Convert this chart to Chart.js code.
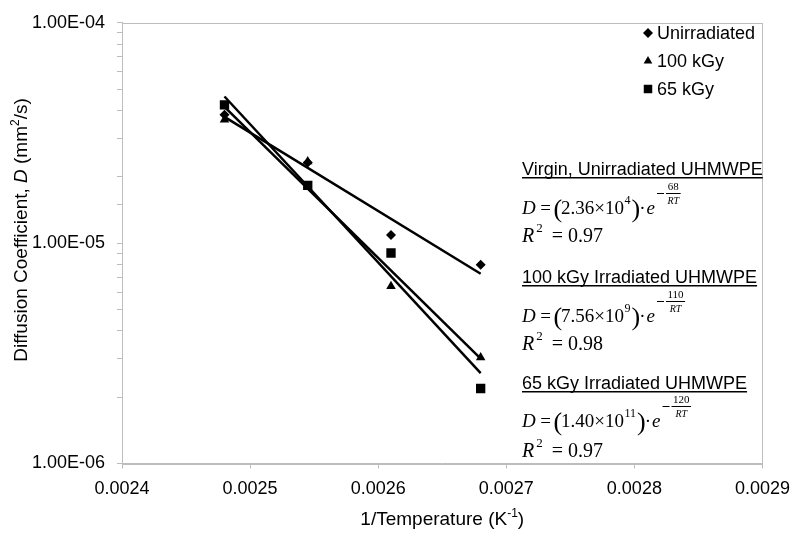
<!DOCTYPE html>
<html><head><meta charset="utf-8">
<script src="https://cdn.jsdelivr.net/npm/chart.js@4/dist/chart.umd.min.js"></script>
<style>html,body{margin:0;padding:0;background:#fff}#wrap{width:800px;height:534px}</style>
</head><body><div id="wrap"><canvas id="c" width="800" height="534"></canvas></div>
<script>
// ---- data ----
const invTemp = [0.00248, 0.002545, 0.00261, 0.00268];
const unirradiated = [3.83e-5, 2.32e-5, 1.09e-5, 7.97e-6];
const kGy100 = [3.63e-5, 2.35e-5, 6.37e-6, 3.03e-6];
const kGy65 = [4.24e-5, 1.83e-5, 9.02e-6, 2.19e-6];
const trendX = [0.00248, 0.00268];
const trendUnirradiated = [3.74e-5, 7.26e-6];
const trend100 = [4.15e-5, 2.99e-6];
const trend65 = [4.63e-5, 2.57e-6];
const xTicks = [0.0024, 0.0025, 0.0026, 0.0027, 0.0028, 0.0029];
const seriesNames = ['Unirradiated', '100 kGy', '65 kGy'];
const seriesStyles = ['rectRot', 'triangle', 'rect'];
const fitTitles = ['Virgin, Unirradiated UHMWPE', '100 kGy Irradiated UHMWPE', '65 kGy Irradiated UHMWPE'];
const fitCoef = ['2.36', '7.56', '1.40'];
const fitPow = ['4', '9', '11'];
const fitEnergy = ['68', '110', '120'];
const fitR2 = ['0.97', '0.98', '0.97'];

const SANS = '"Liberation Sans", Arial, Helvetica, sans-serif';
const SERIF = '"Liberation Serif", "Times New Roman", serif';
const FRAME = '#bdbdbd';

function pts(xs, ys) { return xs.map((x, i) => ({ x: x, y: ys[i] })); }

function drawMarker(ctx, style, x, y, r) {
  ctx.beginPath();
  if (style === 'rectRot') {
    ctx.moveTo(x - r, y); ctx.lineTo(x, y - r); ctx.lineTo(x + r, y); ctx.lineTo(x, y + r);
  } else if (style === 'triangle') {
    const w = r * Math.sqrt(3) / 2;
    ctx.moveTo(x, y - r); ctx.lineTo(x + w, y + r / 2); ctx.lineTo(x - w, y + r / 2);
  } else {
    const s = r * Math.SQRT1_2; ctx.rect(x - s, y - s, 2 * s, 2 * s);
  }
  ctx.closePath(); ctx.fill();
}

function drawEq(ctx, x, y, coef, pow, num) {
  ctx.fillStyle = '#000'; ctx.textAlign = 'left'; ctx.textBaseline = 'alphabetic';
  let cx = x;
  ctx.font = 'italic 19px ' + SERIF; ctx.fillText('D', cx, y); cx += ctx.measureText('D').width + 4.5;
  ctx.font = '19px ' + SERIF; ctx.fillText('=', cx, y); cx += ctx.measureText('=').width + 2.5;
  ctx.font = '26px ' + SERIF; ctx.fillText('(', cx, y + 3); cx += ctx.measureText('(').width - 1;
  ctx.font = '19px ' + SERIF; const t = coef + '\u00D710'; ctx.fillText(t, cx, y); cx += ctx.measureText(t).width;
  ctx.font = '12px ' + SERIF; ctx.fillText(pow, cx + 0.5, y - 10); cx += ctx.measureText(pow).width + 1.5;
  ctx.font = '26px ' + SERIF; ctx.fillText(')', cx, y + 3); cx += ctx.measureText(')').width - 1;
  ctx.font = '19px ' + SERIF; ctx.fillText('\u00B7', cx, y); cx += ctx.measureText('\u00B7').width + 1;
  ctx.font = 'italic 19px ' + SERIF; ctx.fillText('e', cx, y); cx += ctx.measureText('e').width + 2;
  // minus sign of exponent
  ctx.fillRect(cx, y - 21, 7, 1);
  cx += 9;
  ctx.font = '11px ' + SERIF;
  const nw = ctx.measureText(num).width;
  ctx.font = 'italic 10px ' + SERIF;
  const dw = ctx.measureText('RT').width;
  const fw = Math.max(nw, dw) + 3;
  ctx.fillRect(cx, y - 21, fw, 1);
  ctx.textAlign = 'center';
  ctx.font = '11px ' + SERIF; ctx.fillText(num, cx + fw / 2, y - 24);
  ctx.font = 'italic 10px ' + SERIF; ctx.fillText('RT', cx + fw / 2, y - 10);
  ctx.textAlign = 'left';
}

function drawR2(ctx, x, y, val) {
  ctx.fillStyle = '#000'; ctx.textAlign = 'left'; ctx.textBaseline = 'alphabetic';
  let cx = x;
  ctx.font = 'italic 20px ' + SERIF; ctx.fillText('R', cx, y); cx += ctx.measureText('R').width + 2;
  ctx.font = '13px ' + SERIF; ctx.fillText('2', cx, y - 10); cx += ctx.measureText('2').width + 9;
  ctx.font = '20px ' + SERIF; const t = '= ' + val; ctx.fillText(t, cx, y);
}

const overlay = {
  id: 'overlay',
  beforeDatasetsDraw(chart) {
    const ctx = chart.ctx, a = chart.chartArea;
    ctx.save();
    ctx.strokeStyle = FRAME; ctx.lineWidth = 1;
    ctx.strokeRect(Math.round(a.left) + 0.5, Math.round(a.top) + 0.5, Math.round(a.right - a.left), Math.round(a.bottom - a.top));
    ctx.restore();
  },
  afterDraw(chart) {
    const ctx = chart.ctx, a = chart.chartArea;
    ctx.save();
    ctx.fillStyle = '#000';
    // legend
    const legY = [33, 61, 89];
    ctx.font = '18px ' + SANS; ctx.textBaseline = 'middle'; ctx.textAlign = 'left';
    seriesNames.forEach((n, i) => {
      drawMarker(ctx, seriesStyles[i], 648, legY[i], i === 2 ? 6 : 5);
      ctx.fillText(n, 657, legY[i] + 1);
    });
    // fit annotations
    const titleY = [175, 283, 389], eqY = [214, 322, 427], r2Y = [242, 350, 457];
    const ax = 522;
    fitTitles.forEach((t, i) => {
      ctx.font = '18px ' + SANS; ctx.textBaseline = 'alphabetic'; ctx.textAlign = 'left';
      ctx.fillText(t, ax, titleY[i]);
      const w = ctx.measureText(t).width;
      ctx.fillRect(ax, titleY[i] + 2, w, 1.5);
      drawEq(ctx, ax, eqY[i], fitCoef[i], fitPow[i], fitEnergy[i]);
      drawR2(ctx, ax, r2Y[i], fitR2[i]);
    });
    // x axis title
    ctx.textBaseline = 'alphabetic'; ctx.textAlign = 'left';
    const xp = [['1/Temperature (K', '19px ' + SANS, 0], ['-1', '12px ' + SANS, -8], [')', '19px ' + SANS, 0]];
    let tw = 0; xp.forEach(p => { ctx.font = p[1]; tw += ctx.measureText(p[0]).width; });
    let cx = (a.left + a.right) / 2 - tw / 2;
    xp.forEach(p => { ctx.font = p[1]; ctx.fillText(p[0], cx, 525 + p[2]); cx += ctx.measureText(p[0]).width; });
    // y axis title
    ctx.translate(27, 230); ctx.rotate(-Math.PI / 2);
    const yp = [['Diffusion Coefficient, ', '19px ' + SANS, 0], ['D', 'italic 19px ' + SANS, 0], [' (mm', '19px ' + SANS, 0], ['2', '12px ' + SANS, -8], ['/s)', '19px ' + SANS, 0]];
    tw = 0; yp.forEach(p => { ctx.font = p[1]; tw += ctx.measureText(p[0]).width; });
    cx = -tw / 2;
    yp.forEach(p => { ctx.font = p[1]; ctx.fillText(p[0], cx, p[2]); cx += ctx.measureText(p[0]).width; });
    ctx.restore();
  }
};

function fmtE(v) {
  const e = Math.round(Math.log10(v));
  if (Math.abs(Math.log10(v) - e) > 1e-6) return '';
  const m = (v / Math.pow(10, e)).toFixed(2);
  return m + 'E' + (e < 0 ? '-' : '+') + String(Math.abs(e)).padStart(2, '0');
}

const markerDs = (label, ys, style, r) => ({
  label: label, data: pts(invTemp, ys), showLine: false,
  pointStyle: style, pointRadius: r, pointHoverRadius: r,
  backgroundColor: '#000', borderColor: '#000', borderWidth: 0, order: 1
});
const trendDs = (label, ys) => ({
  label: label, data: pts(trendX, ys), showLine: true, pointRadius: 0,
  borderColor: '#000', borderWidth: 2.5, fill: false, order: 2
});

new Chart(document.getElementById('c'), {
  type: 'scatter',
  data: {
    datasets: [
      trendDs('trend ' + seriesNames[0], trendUnirradiated),
      trendDs('trend ' + seriesNames[1], trend100),
      trendDs('trend ' + seriesNames[2], trend65),
      markerDs(seriesNames[0], unirradiated, 'rectRot', 5),
      markerDs(seriesNames[1], kGy100, 'triangle', 5.5),
      markerDs(seriesNames[2], kGy65, 'rect', 6.6)
    ]
  },
  options: {
    responsive: false, animation: false, devicePixelRatio: 1,
    layout: { padding: { top: 14, right: 33, left: 0, bottom: 0 } },
    plugins: { legend: { display: false }, tooltip: { enabled: false } },
    scales: {
      x: {
        type: 'linear', min: xTicks[0], max: xTicks[xTicks.length - 1],
        afterBuildTicks: s => { s.ticks = xTicks.map(v => ({ value: v })); },
        afterFit: s => { s.height = 70.5; },
        grid: { display: true, drawOnChartArea: false, drawTicks: true, tickLength: 5, color: FRAME },
        border: { display: true, color: FRAME },
        ticks: { color: '#000', font: { family: SANS, size: 18 }, padding: 10, maxRotation: 0, autoSkip: false,
          callback: v => Number(v).toFixed(4) }
      },
      y: {
        type: 'logarithmic', min: 1e-6, max: 1e-4,
        afterFit: s => { s.width = 122; },
        grid: { display: true, drawOnChartArea: false, drawTicks: true, tickLength: 5, color: FRAME },
        border: { display: true, color: FRAME },
        ticks: { color: '#000', font: { family: SANS, size: 18 }, padding: 12, autoSkip: false,
          callback: v => fmtE(v) }
      }
    }
  },
  plugins: [overlay]
});
</script></body></html>
